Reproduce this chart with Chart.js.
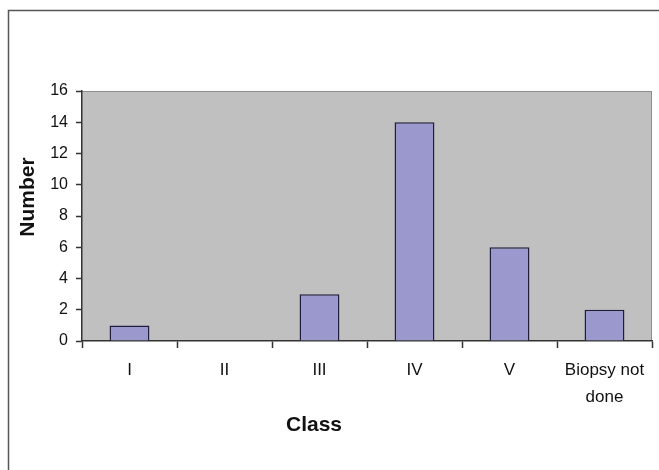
<!DOCTYPE html>
<html>
<head>
<meta charset="utf-8">
<script src="https://cdn.jsdelivr.net/npm/chart.js@4/dist/chart.umd.min.js"></script>
<style>
  html, body { margin: 0; padding: 0; background: #fff; }
  #wrap { width: 659px; height: 470px; }
</style>
</head>
<body>
<div id="wrap"><canvas id="classChart"></canvas></div>
<script>
// Data
const classes = ['I', 'II', 'III', 'IV', 'V', ['Biopsy not', 'done']];
const counts = [1, 0, 3, 14, 6, 2];
const yTicks = [0, 2, 4, 6, 8, 10, 12, 14, 16];

const FONT = '"Liberation Sans", Arial, sans-serif';

// Gray plot area, frame lines and the two axis titles
const excelLook = {
    id: 'excelLook',
    beforeDraw(chart) {
        const c = chart.ctx;
        const a = chart.chartArea;
        c.save();
        // outer frame (only top and left show in the picture)
        c.strokeStyle = '#555';
        c.lineWidth = 1.5;
        c.beginPath();
        c.moveTo(659, 10.5);
        c.lineTo(8.5, 10.5);
        c.lineTo(8.5, 470);
        c.stroke();
        // plot background
        c.fillStyle = '#c0c0c0';
        c.fillRect(a.left, a.top, a.right - a.left, a.bottom - a.top);
        c.strokeStyle = '#8c8c8c';
        c.lineWidth = 1;
        c.beginPath();
        c.moveTo(a.left, a.top + 0.5);
        c.lineTo(a.right - 0.5, a.top + 0.5);
        c.lineTo(a.right - 0.5, a.bottom);
        c.stroke();
        c.restore();
    },
    afterDraw(chart) {
        const c = chart.ctx;
        c.save();
        c.fillStyle = '#111';
        c.font = 'bold 21px ' + FONT;
        c.textAlign = 'center';
        c.textBaseline = 'middle';
        c.fillText('Class', 314, 425);
        c.translate(28, 197);
        c.rotate(-Math.PI / 2);
        c.fillText('Number', 0, 0);
        c.restore();
    }
};

const ctx = document.getElementById('classChart').getContext('2d');
const classChart = new Chart(ctx, {
    type: 'bar',
    data: {
        labels: classes,
        datasets: [{
            label: 'Number',
            data: counts,
            backgroundColor: '#9a98cc',
            borderColor: '#1e1e3c',
            borderWidth: 1.5,
            barPercentage: 0.42,
            categoryPercentage: 1.0
        }]
    },
    options: {
        responsive: true,
        maintainAspectRatio: false,
        animation: false,
        layout: { padding: { top: 91, right: 7, left: 0, bottom: 0 } },
        plugins: {
            legend: { display: false },
            tooltip: { enabled: false }
        },
        scales: {
            x: {
                grid: {
                    display: true,
                    drawOnChartArea: false,
                    drawTicks: true,
                    tickLength: 7,
                    tickColor: '#333',
                    tickWidth: 1.5
                },
                border: { display: true, color: '#333', width: 1.5 },
                ticks: {
                    color: '#111',
                    font: { family: FONT, size: 17, lineHeight: 1.6 },
                    padding: 9,
                    maxRotation: 0,
                    autoSkip: false
                },
                afterFit(scale) { scale.height = 129; }
            },
            y: {
                min: 0,
                max: 16,
                afterBuildTicks(scale) {
                    scale.ticks = yTicks.map(v => ({ value: v }));
                },
                grid: {
                    display: true,
                    drawOnChartArea: false,
                    drawTicks: true,
                    tickLength: 6,
                    tickColor: '#333',
                    tickWidth: 1.5
                },
                border: { display: true, color: '#333', width: 1.5 },
                ticks: {
                    color: '#111',
                    font: { family: FONT, size: 16 },
                    padding: 8
                },
                afterFit(scale) { scale.width = 82; }
            }
        }
    },
    plugins: [excelLook]
});
</script>
</body>
</html>
